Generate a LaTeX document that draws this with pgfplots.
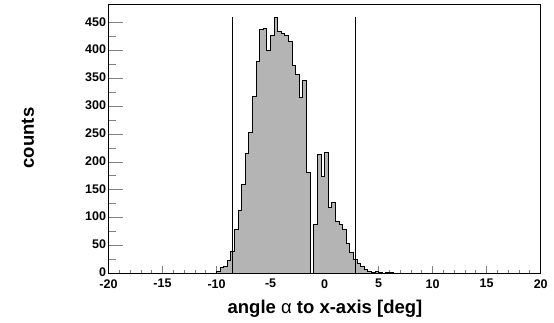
\documentclass[border=0pt]{standalone}
\usepackage{fontspec}
\setmainfont{Liberation Sans}
\usepackage{pgfplots}
\pgfplotsset{compat=1.18}
\definecolor{histfill}{RGB}{180,180,180}
\begin{document}
\begin{tikzpicture}[x=1pt,y=1pt]
\useasboundingbox (0,0) rectangle (554,323);
\begin{axis}[
  at={(108.5pt,49.7pt)}, anchor=south west,
  scale only axis, width=432.2pt, height=268.3pt,
  xmin=-20, xmax=20, ymin=0, ymax=482,
  axis line style={line width=1pt},
  xtick={-20,-15,...,20}, minor x tick num=4,
  ytick={0,50,...,450}, minor y tick num=1,
  xtick pos=lower, ytick pos=left, tick align=inside,
  xtick style={/pgfplots/major tick length=7pt,/pgfplots/minor tick length=3.5pt,line width=0.8pt},
  ytick style={/pgfplots/major tick length=14pt,/pgfplots/minor tick length=7pt,line width=0.8pt},
  /pgf/number format/assume math mode=true,
  tick label style={font=\fontsize{12.5}{12.5}\selectfont\bfseries},
  xticklabel style={yshift=-2.5pt},
  yticklabel style={xshift=1pt, yshift=1pt},
  clip=false,
]
\addplot[const plot mark left, draw=black, line width=1pt, fill=histfill] table {
x y
-20 0
-10.3333 0
-10 3
-9.6667 10
-9.3333 13
-9 23
-8.6667 39
-8.3333 78
-8 112
-7.6667 160
-7.3333 215
-7 253
-6.6667 317
-6.3333 380
-6 438
-5.6667 440
-5.3333 401
-5 428
-4.6667 460
-4.3333 434
-4 431
-3.6667 428
-3.3333 416
-3 374
-2.6667 358
-2.3333 316
-2 347
-1.6667 181
-1.3333 0
-1 88
-0.6667 214
-0.3333 173
0 217
0.3333 118
0.6667 127
1 93
1.3333 88
1.6667 78
2 54
2.3333 38
2.6667 25
3 18
3.3333 12
3.6667 7
4 4
4.3333 1
4.6667 3
5 1
5.3333 0
5.6667 1
6 1
6.3333 0
20 0
} \closedcycle;
\addplot[black, line width=0.8pt] coordinates {(-8.5,0) (-8.5,460)};
\addplot[black, line width=0.8pt] coordinates {(2.85,0) (2.85,460)};
\end{axis}
\node[anchor=base, font=\fontsize{18.5}{18.5}\selectfont\bfseries] at (325,9.5) {angle {\mdseries α} to x-axis [deg]};
\node[rotate=90, font=\fontsize{18.5}{18.5}\selectfont\bfseries] at (28,185) {counts};
\end{tikzpicture}
\end{document}
